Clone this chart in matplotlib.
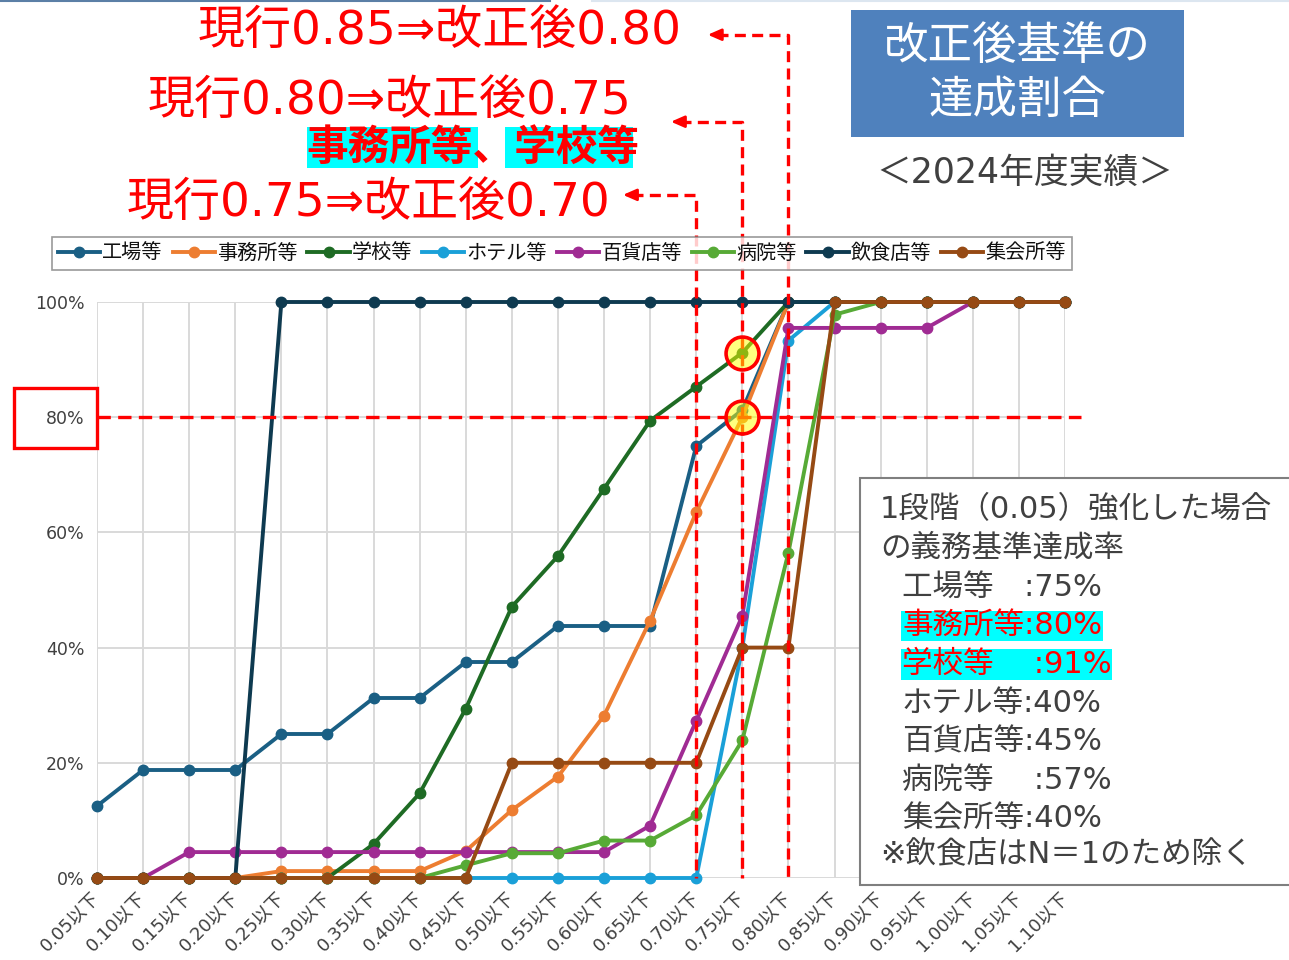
import numpy as np
import matplotlib
matplotlib.use('Agg')
import matplotlib.pyplot as plt
from matplotlib.patches import Rectangle
from matplotlib.lines import Line2D

plt.rcParams['font.family'] = ['Noto Sans CJK JP', 'DejaVu Sans']
WIDE = ['DejaVu Sans', 'Noto Sans CJK JP']  # wide latin digits, CJK falls back

# data
categories = ['0.05', '0.10', '0.15', '0.20', '0.25', '0.30', '0.35', '0.40', '0.45', '0.50', '0.55',
              '0.60', '0.65', '0.70', '0.75', '0.80', '0.85', '0.90', '0.95', '1.00', '1.05', '1.10']
tick_labels = [c + '以下' for c in categories]

names = ['工場等', '事務所等', '学校等', 'ホテル等', '百貨店等', '病院等', '飲食店等', '集会所等']
colors = ['#1A5F84', '#ED7D31', '#1E6B24', '#1AA0D8', '#A02B93', '#57AA36', '#0E3A50', '#964A14']

factory = [12.5, 18.75, 18.75, 18.75, 25, 25, 31.25, 31.25, 37.5, 37.5, 43.75, 43.75, 43.75,
           75, 81.25, 100, 100, 100, 100, 100, 100, 100]
office = [0, 0, 0, 0, 1.2, 1.2, 1.2, 1.2, 4.7, 11.8, 17.6, 28.2, 44.7, 63.5, 80.0, 100,
          100, 100, 100, 100, 100, 100]
school = [0, 0, 0, 0, 0, 0, 5.9, 14.7, 29.4, 47.1, 55.9, 67.6, 79.4, 85.3, 91.2, 100,
          100, 100, 100, 100, 100, 100]
hotel = [0, 0, 0, 0, 0, 0, 0, 0, 0, 0, 0, 0, 0, 0, 40, 93.3, 100, 100, 100, 100, 100, 100]
dept = [0, 0, 4.5, 4.5, 4.5, 4.5, 4.5, 4.5, 4.5, 4.5, 4.5, 4.5, 9.1, 27.3, 45.5, 95.5,
        95.5, 95.5, 95.5, 100, 100, 100]
hospital = [0, 0, 0, 0, 0, 0, 0, 0, 2.2, 4.3, 4.3, 6.5, 6.5, 10.9, 23.9, 56.5, 97.8,
            100, 100, 100, 100, 100]
restaurant = [0, 0, 0, 0, 100, 100, 100, 100, 100, 100, 100, 100, 100, 100, 100, 100,
              100, 100, 100, 100, 100, 100]
hall = [0, 0, 0, 0, 0, 0, 0, 0, 0, 20, 20, 20, 20, 20, 40, 40, 100, 100, 100, 100, 100, 100]
series = [factory, office, school, hotel, dept, hospital, restaurant, hall]

yticks = [0, 20, 40, 60, 80, 100]
target = 80
thresholds = ['0.70', '0.75', '0.80']
headings = ['現行0.75⇒改正後0.70', '現行0.80⇒改正後0.75', '現行0.85⇒改正後0.80']
summary = ['工場等　:75%', '事務所等:80%', '学校等　 :91%', 'ホテル等:40%',
           '百貨店等:45%', '病院等　 :57%', '集会所等:40%']

W, H = 1289, 960
def fx(px):
    return px / W
def fy(py):
    return 1 - py / H

fig = plt.figure(figsize=(W / 100, H / 100), dpi=100)
ax = fig.add_axes([fx(97), fy(878), (1065 - 97) / W, (878 - 302) / H])

x = np.arange(len(categories))
for name, vals, c in zip(names, series, colors):
    ax.plot(x, vals, color=c, lw=2.8, marker='o', ms=7.5, clip_on=False, label=name, zorder=3)

ax.set_xlim(0, len(categories) - 1)
ax.set_ylim(0, 100)
ax.set_yticks(yticks)
ax.set_yticklabels([f'{v}%' for v in yticks], fontsize=12.5, color='#404040', family='DejaVu Sans')
ax.set_xticks(x)
ax.set_xticklabels(tick_labels, rotation=45, ha='right', va='center', rotation_mode='anchor',
                   fontsize=13, color='#404040', family=WIDE)
ax.tick_params(length=0, axis='y', pad=9)
ax.tick_params(length=0, axis='x', pad=12)
ax.grid(True, color='#D9D9D9', lw=1.4)
ax.set_axisbelow(True)
for s in ax.spines.values():
    s.set_visible(False)

# 80% line
ax.plot([0, 21.35], [target, target], color='red', lw=2.4, ls=(0, (4, 2.2)), clip_on=False, zorder=5)

# threshold lines with arrows
tops = [118.6, 131.3, 146.4]
tips = [11.35, 12.39, 13.19]
for t, top, tip in zip(thresholds, tops, tips):
    i = categories.index(t)
    ax.plot([tip + 0.25, i, i], [top, top, 0], color='red', lw=2.4, ls=(0, (3.3, 1.9)),
            clip_on=False, zorder=5)
    ax.annotate('', xy=(tip, top), xytext=(tip + 0.35, top),
                arrowprops=dict(arrowstyle='-|>,head_length=0.8,head_width=0.35', color='red', lw=2),
                annotation_clip=False)

# highlight circles
i75 = categories.index('0.75')
ax.scatter([i75, i75], [school[i75], office[i75]], s=560, facecolor=(1, 1, 0, 0.5),
           edgecolor='red', lw=2.6, zorder=6, clip_on=False)

# legend
leg = fig.legend(ncol=8, loc='lower left', bbox_to_anchor=(fx(52), fy(270), (1072 - 52) / W, 45 / H),
                 mode='expand', frameon=True, fancybox=False, edgecolor='#808080', fontsize=14.5,
                 handlelength=2.1, handletextpad=0.1, borderaxespad=0, columnspacing=0.2,
                 borderpad=0.3)
leg.get_frame().set_linewidth(1.2)
for t in leg.get_texts():
    t.set_color('#111111')

# red box around 80%
fig.patches.append(Rectangle((fx(14), fy(448)), 83 / W, 60 / H, transform=fig.transFigure,
                             fill=False, edgecolor='red', lw=2.4))

# top annotations
red = '#FF0000'
fig.text(fx(198), fy(32), headings[2], fontsize=33.8, color=red, va='center', family=WIDE)
fig.text(fx(148), fy(101), headings[1], fontsize=33.8, color=red, va='center', family=WIDE)
fig.text(fx(127), fy(204), headings[0], fontsize=33.8, color=red, va='center', family=WIDE)
fig.patches.append(Rectangle((fx(307), fy(168)), 171 / W, 41 / H, transform=fig.transFigure,
                             facecolor='#00FFFF', edgecolor='none'))
fig.patches.append(Rectangle((fx(505), fy(168)), 128 / W, 41 / H, transform=fig.transFigure,
                             facecolor='#00FFFF', edgecolor='none'))
fig.text(fx(306), fy(149), '事務所等、学校等', fontsize=30, color=red, va='center', weight='bold')

# title box
fig.patches.append(Rectangle((fx(851), fy(137)), 333 / W, 127 / H, transform=fig.transFigure,
                             facecolor='#4F81BD', edgecolor='none'))
fig.text(fx(1017), fy(73), '改正後基準の\n達成割合', fontsize=32, color='white', ha='center',
         va='center', linespacing=1.2)
fig.text(fx(1025), fy(173), '＜2024年度実績＞', fontsize=25, color='#404040', ha='center',
         va='center', family=WIDE)

# summary box
fig.patches.append(Rectangle((fx(860), fy(885)), 440 / W, 407 / H, transform=fig.transFigure,
                             facecolor='white', edgecolor='#7F7F7F', lw=1.5, zorder=2))
gray = '#404040'
fs = 22
fig.text(fx(880), fy(510), '1段階（0.05）強化した場合', fontsize=fs, color=gray, va='center',
         zorder=4, family=WIDE)
fig.text(fx(880), fy(548), 'の義務基準達成率', fontsize=fs, color=gray, va='center', zorder=4)
for k, line in enumerate(summary):
    yy = 587 + k * 38.7
    if k in (1, 2):
        fig.text(fx(902), fy(yy), line, fontsize=fs, color=red, va='center', zorder=4, family=WIDE,
                 bbox=dict(boxstyle='square,pad=0.02', fc='#00FFFF', ec='none'))
    else:
        fig.text(fx(902), fy(yy), line, fontsize=fs, color=gray, va='center', zorder=4, family=WIDE)
fig.text(fx(880), fy(855), '※飲食店はN＝1のため除く', fontsize=fs, color=gray, va='center',
         zorder=4, family=WIDE)

# thin lines at top edge
fig.lines.append(Line2D([0, fx(550)], [fy(1), fy(1)], transform=fig.transFigure, color='#5B7FA6', lw=1.5))
fig.lines.append(Line2D([fx(592), 1], [fy(1), fy(1)], transform=fig.transFigure, color='#DCE6F0', lw=1.5))

fig.savefig('out.png', dpi=100)
